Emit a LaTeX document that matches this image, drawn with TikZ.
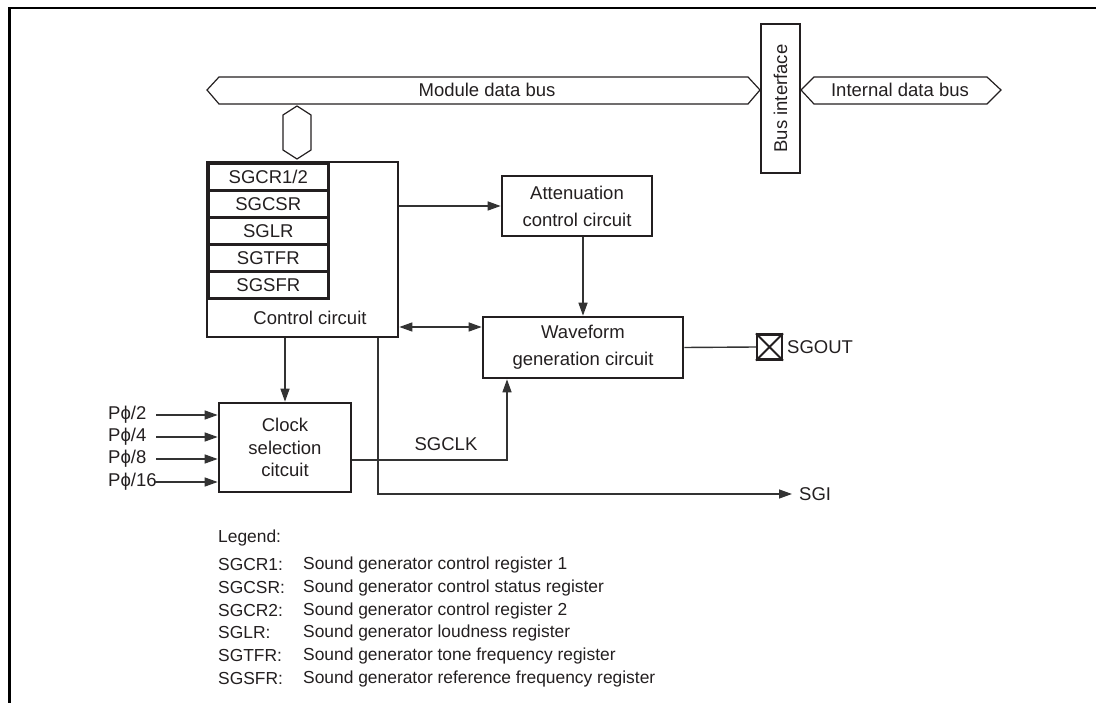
\documentclass[tikz,border=0pt]{standalone}
\usepackage{fontspec}
\setmainfont{Liberation Sans}
\usetikzlibrary{arrows.meta,calc}
\definecolor{ink}{HTML}{231F20}
\definecolor{wirec}{HTML}{333333}
\begin{document}
\begin{tikzpicture}[x=1pt,y=-1pt,
  every node/.style={font=\fontsize{18.5}{27}\selectfont, text=ink},
  blk/.style={draw=ink, line width=2.6pt, align=center, inner sep=0pt},
  reg/.style={draw=ink, line width=2.6pt, minimum width=120pt, minimum height=27pt, inner sep=0pt, anchor=north west},
  wire/.style={draw=wirec, line width=1.4pt},
  arr/.style={wire, -{Triangle[length=13pt,width=9pt]}},
  darr/.style={wire, {Triangle[length=13pt,width=9pt]}-{Triangle[length=13pt,width=9pt]}},
  bus/.style={draw=ink, line width=1.2pt, line join=miter},
  lg/.style={anchor=west, inner sep=0pt},
  lgt/.style={anchor=west, inner sep=0pt, font=\fontsize{17.4}{22}\selectfont},
]
\useasboundingbox (0,0) rectangle (1096,703);
\draw[line width=2.6pt, line join=miter] (1096,8) -- (9.5,8) -- (9.5,703);

% buses
\draw[bus] (207,90) -- (219,77) -- (748,77) -- (760,90) -- (748,104) -- (219,104) -- cycle;
\node (mbus) at (487,90) {Module data bus};
\draw[bus] (801,90) -- (814,77) -- (987,77) -- (1001,90) -- (987,104) -- (814,104) -- cycle;
\node (ibus) at (900,90) {Internal data bus};
\draw[bus] (297,106) -- (311,115) -- (311,150) -- (297,159) -- (283,150) -- (283,115) -- cycle;
\node[blk, rotate=90, minimum width=149pt, minimum height=39pt] (bif) at (780.5,98.5) {Bus interface};

% control circuit
\node[blk, minimum width=191pt, minimum height=175pt] (ctrl) at (302.5,249.5) {};
\node[reg] (r1) at (207,162) {SGCR1/2};
\node[reg] (r2) at (207,189) {SGCSR};
\node[reg] (r3) at (207,216) {SGLR};
\node[reg] (r4) at (207,243) {SGTFR};
\node[reg] (r5) at (207,270) {SGSFR};
\node (ctrltxt) at (310,318) {Control circuit};

% other blocks
\node[blk, minimum width=150pt, minimum height=60pt] (att) at (577,206) {Attenuation\\control circuit};
\node[blk, minimum width=200pt, minimum height=61pt] (wave) at (583,347.5) {Waveform\\generation circuit};
\node[blk, minimum width=132pt, minimum height=89pt, font=\fontsize{18.5}{22.5}\selectfont] (clk) at (285,447.5) {Clock\\selection\\citcuit};

% pin
\node[draw=ink, line width=2.2pt, minimum size=25pt, inner sep=0pt] (pin) at (769.5,347) {};
\draw[ink, line width=1.8pt] (pin.north west) -- (pin.south east) (pin.north east) -- (pin.south west);
\node[lg] (sgout) at (787,347) {SGOUT};
\draw[wire] (wave.east) -- (pin.west);

% connectors
\draw[arr] (att.west -| ctrl.east) -- (att.west);
\draw[arr] (att.south -| wave.north) -- (wave.north);
\draw[darr] ($(ctrl.east)+(0,77.5)$) coordinate (dl) -- (dl -| wave.west);
\draw[arr] (ctrl.south -| clk.north) -- (clk.north);
\draw[arr] ($(clk.east)+(0,12.5)$) -| ($(wave.south)+(-76,0)$);
\node (sgclk) at (446,444) {SGCLK};
\coordinate (sgiend) at (792,494);
\draw[arr] ($(ctrl.south)+(75.5,0)$) |- (sgiend);
\node[lg] (sgi) at (799,494) {SGI};

% clock inputs
\node[lg] (p2) at (108,415) {Pϕ/2};
\node[lg] (p4) at (108,437) {Pϕ/4};
\node[lg] (p8) at (108,459) {Pϕ/8};
\node[lg] (p16) at (108,482) {Pϕ/16};
\coordinate (i2) at (156,415);
\coordinate (i4) at (156,437);
\coordinate (i8) at (156,459);
\coordinate (i16) at (155,482);
\draw[arr] (i2) -- (i2 -| clk.west);
\draw[arr] (i4) -- (i4 -| clk.west);
\draw[arr] (i8) -- (i8 -| clk.west);
\draw[arr] (i16) -- (i16 -| clk.west);

% legend
\node[lgt] (leg) at (218,538) {Legend:};
\node[lgt] (l1a) at (218,565) {SGCR1:};  \node[lgt] (l1b) at (303,565) {Sound generator control register 1};
\node[lgt] (l2a) at (218,588) {SGCSR:};  \node[lgt] (l2b) at (303,588) {Sound generator control status register};
\node[lgt] (l3a) at (218,611) {SGCR2:};  \node[lgt] (l3b) at (303,611) {Sound generator control register 2};
\node[lgt] (l4a) at (218,633) {SGLR:};   \node[lgt] (l4b) at (303,633) {Sound generator loudness register};
\node[lgt] (l5a) at (218,656) {SGTFR:};  \node[lgt] (l5b) at (303,656) {Sound generator tone frequency register};
\node[lgt] (l6a) at (218,679) {SGSFR:};  \node[lgt] (l6b) at (303,679) {Sound generator reference frequency register};
\end{tikzpicture}
\end{document}
